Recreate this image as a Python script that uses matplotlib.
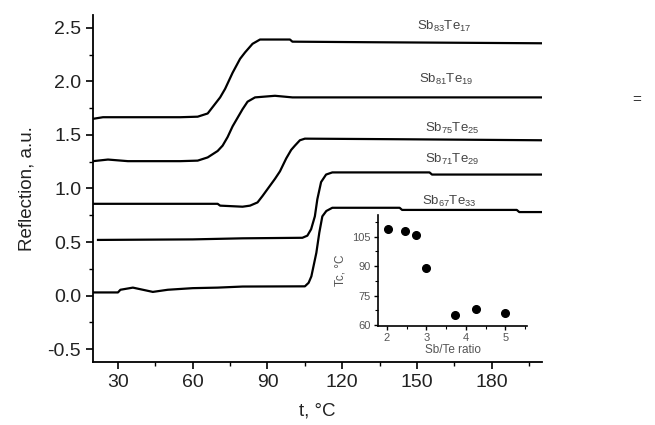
import matplotlib
matplotlib.use("Agg")
import matplotlib.pyplot as plt
from matplotlib.ticker import MultipleLocator, FormatStrFormatter

plt.rcParams['font.family'] = ['Liberation Sans', 'DejaVu Sans']
plt.rcParams['mathtext.fontset'] = 'custom'
plt.rcParams['mathtext.rm'] = 'Liberation Sans'
plt.rcParams['mathtext.it'] = 'Liberation Sans'

# Reflection curves (t in °C, reflection in a.u.)
t_83 = [20, 24, 40, 55, 62, 66, 68, 71, 73, 76, 79, 81, 84, 87, 99, 100, 130, 200]
r_83 = [1.65, 1.665, 1.665, 1.665, 1.67, 1.70, 1.76, 1.85, 1.93, 2.08, 2.21, 2.27, 2.35, 2.39, 2.39, 2.37, 2.365, 2.355]

t_81 = [20, 26, 34, 55, 62, 66, 70, 72, 74, 76, 78, 80, 82, 85, 93, 100, 200]
r_81 = [1.255, 1.27, 1.255, 1.255, 1.26, 1.29, 1.35, 1.40, 1.48, 1.58, 1.66, 1.74, 1.81, 1.85, 1.865, 1.85, 1.85]

t_75 = [20, 70, 71, 80, 83, 86, 88, 90.5, 93, 95, 97.5, 99.5, 101, 103, 105, 140, 200]
r_75 = [0.857, 0.857, 0.84, 0.83, 0.84, 0.87, 0.93, 1.01, 1.09, 1.16, 1.28, 1.36, 1.40, 1.45, 1.465, 1.46, 1.45]

t_71 = [22, 60, 80, 104, 106, 107.5, 109, 110, 111.5, 113.5, 116, 155, 156, 200]
r_71 = [0.52, 0.525, 0.535, 0.54, 0.56, 0.62, 0.74, 0.90, 1.06, 1.13, 1.15, 1.15, 1.13, 1.13]

t_67 = [20, 30, 31, 36, 40, 44, 50, 60, 70, 80, 105, 106.5, 107.6, 109.6, 110.8, 112, 113.6, 116, 143, 144, 190, 191, 200]
r_67 = [0.03, 0.03, 0.055, 0.075, 0.055, 0.035, 0.055, 0.07, 0.075, 0.085, 0.087, 0.12, 0.18, 0.40, 0.59, 0.74, 0.79, 0.82, 0.82, 0.80, 0.80, 0.78, 0.78]

curve_labels = [r"Sb$_{83}$Te$_{17}$", r"Sb$_{81}$Te$_{19}$", r"Sb$_{75}$Te$_{25}$",
                r"Sb$_{71}$Te$_{29}$", r"Sb$_{67}$Te$_{33}$"]
label_t = [161, 161.5, 164, 164, 163]
label_r = [2.51, 2.02, 1.56, 1.27, 0.88]

# Inset: crystallization temperature vs Sb/Te ratio
ratio = [2.03, 2.45, 2.74, 3.0, 3.72, 4.26, 5.0]
tc = [109, 108, 106, 89, 65, 68, 66]

fig = plt.figure(figsize=(6.55, 4.25), dpi=100)
ax = fig.add_axes([0.142, 0.148, 0.685, 0.817])
for t, r in [(t_83, r_83), (t_81, r_81), (t_75, r_75), (t_71, r_71), (t_67, r_67)]:
    ax.plot(t, r, color='black', lw=1.6)
for lab, x, y in zip(curve_labels, label_t, label_r):
    ax.text(x, y, lab, fontsize=9.5, color='#444444', ha='center', va='center')

ax.set_xlim(20, 200)
ax.set_ylim(-0.62, 2.62)
ax.xaxis.set_major_locator(MultipleLocator(30))
ax.xaxis.set_minor_locator(MultipleLocator(15))
ax.yaxis.set_major_locator(MultipleLocator(0.5))
ax.yaxis.set_minor_locator(MultipleLocator(0.25))
ax.yaxis.set_major_formatter(FormatStrFormatter('%.1f'))
for s in ['top', 'right']:
    ax.spines[s].set_visible(False)
for s in ['left', 'bottom']:
    ax.spines[s].set_linewidth(1.3)
ax.tick_params(which='major', direction='out', length=5, width=1.2, labelsize=14, colors='black', labelcolor='#222222')
ax.tick_params(which='minor', direction='out', length=3, width=1.0)
ax.set_xlabel("t, °C", fontsize=13.5, color='#222222', labelpad=8)
ax.set_ylabel("Reflection, a.u.", fontsize=13.5, color='#222222', labelpad=9)

ins = fig.add_axes([0.577, 0.233, 0.228, 0.261])
ins.plot(ratio, tc, 'o', color='black', markersize=5.5)
ins.set_xlim(1.77, 5.56)
ins.set_ylim(59.5, 116)
ins.xaxis.set_major_locator(MultipleLocator(1))
ins.xaxis.set_minor_locator(MultipleLocator(0.5))
ins.yaxis.set_major_locator(MultipleLocator(15))
ins.yaxis.set_minor_locator(MultipleLocator(7.5))
for s in ['top', 'right']:
    ins.spines[s].set_visible(False)
for s in ['left', 'bottom']:
    ins.spines[s].set_linewidth(1.2)
ins.tick_params(which='major', direction='out', length=3, width=1.0, labelsize=8, labelcolor='#555555', pad=2)
ins.tick_params(which='minor', direction='out', length=2, width=0.8)
ins.set_xlabel("Sb/Te ratio", fontsize=8.5, color='#555555', labelpad=1)
ins.set_ylabel("Tc, °C", fontsize=8.5, color='#555555', labelpad=4)

fig.text(0.972, 0.765, "=", fontsize=11, color='#333333', ha='center', va='center')

fig.savefig("out.png", dpi=100)
